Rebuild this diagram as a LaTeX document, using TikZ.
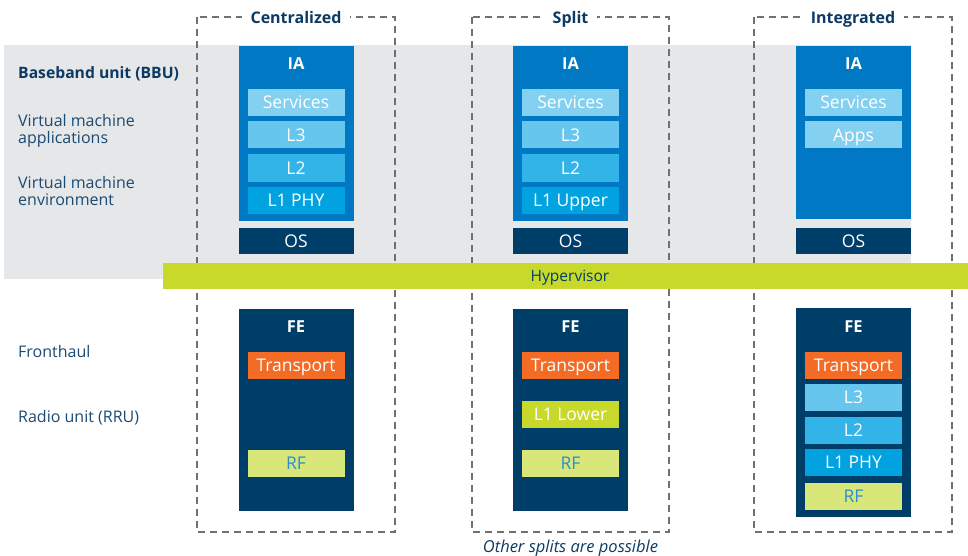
\documentclass[tikz,border=0pt]{standalone}
\usepackage{fontspec}
\setmainfont{Open Sans}
\definecolor{greyband}{HTML}{E6E7E9}
\definecolor{iablue}{HTML}{0078C4}
\definecolor{svc}{HTML}{83D0F1}
\definecolor{lthree}{HTML}{66C6EE}
\definecolor{ltwo}{HTML}{33B4E8}
\definecolor{lone}{HTML}{00A3E0}
\definecolor{navy}{HTML}{003E6A}
\definecolor{transport}{HTML}{F36B25}
\definecolor{lime}{HTML}{C8D92B}
\definecolor{rf}{HTML}{D9E67A}
\definecolor{rftext}{HTML}{2A8FCB}
\definecolor{labeltext}{HTML}{1B4A72}
\definecolor{titletext}{HTML}{0C3A63}
\definecolor{dashgrey}{HTML}{707070}
\begin{document}
\begin{tikzpicture}[x=1pt,y=-1pt,
  capc/.style={text height=#1,text depth=0pt},
  blk/.style={inner sep=0pt,outer sep=0pt,text=white,capc=12.5pt,font=\fontsize{17.5}{17.5}\selectfont},
  outer/.style={blk,minimum width=115pt},
  inner/.style={blk,minimum width=97pt,minimum height=27pt},
  hdr/.style={inner sep=0pt,text=white,capc=11.8pt,font=\fontsize{16.5}{16.5}\selectfont\bfseries},
  side/.style={inner sep=0pt,anchor=west,align=left,text=labeltext,font=\fontsize{16}{17}\selectfont},
  colbox/.style={draw=dashgrey,line width=1.4pt,dash pattern=on 7pt off 5pt},
  coltitle/.style={fill=white,inner xsep=9pt,inner ysep=2pt,capc=11.4pt,text=titletext,font=\fontsize{16}{16}\selectfont\bfseries}
]
\useasboundingbox (0,0) rectangle (968,556);
% grey band
\fill[greyband] (4,45) rectangle (911,279);
% dashed column boxes
\draw[colbox] (197,17) rectangle (395,532);
\draw[colbox] (472,17) rectangle (669,532);
\draw[colbox] (754,17) rectangle (952,532);
\node[coltitle] (tcen) at (296,18) {Centralized};
\node[coltitle] (tspl) at (570.5,18) {Split};
\node[coltitle] (tint) at (853,18) {Integrated};
% hypervisor
\node[inner sep=0pt,fill=lime,minimum width=805pt,minimum height=26pt,anchor=north west] (hyp) at (163,263) {};
\node[inner sep=0pt,capc=11.1pt,text=navy,font=\fontsize{15.5}{15.5}\selectfont] (hyptxt) at (570,275.5) {Hypervisor};
% side labels
\node[side,font=\fontsize{15.7}{15.7}\selectfont\bfseries,text=titletext,capc=11.2pt] (bbu) at (18,73) {Baseband unit (BBU)};
\node[side] (vma) at (18,130.5) {Virtual machine\\applications};
\node[side] (vme) at (18,190.5) {Virtual machine\\environment};
\node[side,capc=11.4pt] (fh) at (18,352) {Fronthaul};
\node[side,capc=11.4pt] (rru) at (18,417) {Radio unit (RRU)};
% ---- Centralized
\node[outer,fill=iablue,minimum height=175pt] (cia) at (296,133.5) {};
\node[hdr] (ciat) at (296,64) {IA};
\node[inner,fill=svc] (csvc) at (296,102.5) {Services};
\node[inner,fill=lthree] (cl3) at (296,135) {L3};
\node[inner,fill=ltwo] (cl2) at (296,168) {L2};
\node[inner,fill=lone] (cl1) at (296,200) {L1 PHY};
\node[outer,fill=navy,minimum height=26pt] (cos) at (296,241) {OS};
\node[outer,fill=navy,minimum height=202pt] (cfe) at (296,410) {};
\node[hdr] (cfet) at (296,327) {FE};
\node[inner,fill=transport] (ctr) at (296,365.5) {Transport};
\node[inner,fill=rf,text=rftext] (crf) at (296,463.5) {RF};
% ---- Split
\node[outer,fill=iablue,minimum height=175pt] (sia) at (570.5,133.5) {};
\node[hdr] (siat) at (570.5,64) {IA};
\node[inner,fill=svc] (ssvc) at (570.5,102.5) {Services};
\node[inner,fill=lthree] (sl3) at (570.5,135) {L3};
\node[inner,fill=ltwo] (sl2) at (570.5,168) {L2};
\node[inner,fill=lone] (sl1) at (570.5,200) {L1 Upper};
\node[outer,fill=navy,minimum height=26pt] (sos) at (570.5,241) {OS};
\node[outer,fill=navy,minimum height=202pt] (sfe) at (570.5,410) {};
\node[hdr] (sfet) at (570.5,327) {FE};
\node[inner,fill=transport] (str) at (570.5,365.5) {Transport};
\node[inner,fill=lime] (sl1l) at (570.5,414.5) {L1 Lower};
\node[inner,fill=rf,text=rftext] (srf) at (570.5,463.5) {RF};
\node[inner sep=0pt,capc=11.8pt,text=titletext,font=\fontsize{16.5}{16.5}\selectfont\itshape] (other) at (570.5,547) {Other splits are possible};
% ---- Integrated
\node[outer,fill=iablue,minimum height=173pt] (iia) at (853.5,132.5) {};
\node[hdr] (iiat) at (853.5,64) {IA};
\node[inner,fill=svc] (isvc) at (853.5,102.5) {Services};
\node[inner,fill=svc] (iapps) at (853.5,135) {Apps};
\node[outer,fill=navy,minimum height=26pt] (ios) at (853.5,241) {OS};
\node[outer,fill=navy,minimum height=209pt] (ife) at (853.5,412.5) {};
\node[hdr] (ifet) at (853.5,327) {FE};
\node[inner,fill=transport] (itr) at (853.5,365.5) {Transport};
\node[inner,fill=lthree] (il3) at (853.5,397.5) {L3};
\node[inner,fill=ltwo] (il2) at (853.5,430.5) {L2};
\node[inner,fill=lone] (il1) at (853.5,462.5) {L1 PHY};
\node[inner,fill=rf,text=rftext] (irf) at (853.5,496.5) {RF};
\end{tikzpicture}
\end{document}
